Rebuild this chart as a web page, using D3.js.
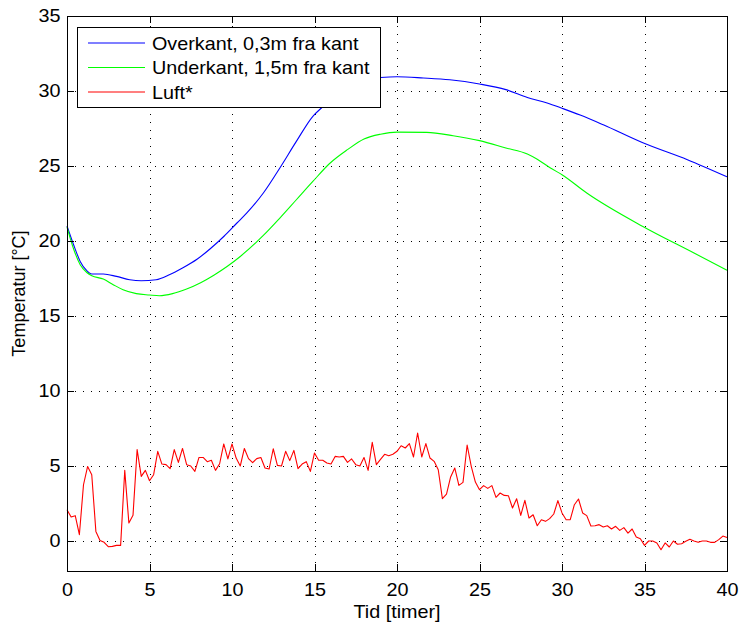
<!DOCTYPE html>
<html>
<head>
<meta charset="utf-8">
<script src="https://cdn.jsdelivr.net/npm/d3@7/dist/d3.min.js"></script>
<style>
  html, body { margin: 0; padding: 0; background: #fff; }
  svg { display: block; font-family: "Liberation Sans", Arial, Helvetica, sans-serif; }
</style>
</head>
<body>
<svg id="chart" width="739" height="624"></svg>
<script>
// Surface temperature at the top edge (0.3 m from edge)
const overkantTid = [0, 0.4, 0.8, 1.2, 1.5, 2.2, 3.0, 3.8, 4.5, 5.4, 6.2, 7.0, 7.9, 8.7, 9.5, 10.3, 10.9, 11.9, 12.9, 13.9, 14.9, 15.5, 16.3, 17.1, 17.8, 19.0, 20.0, 21.6, 23.2, 25.0, 26.6, 27.9, 29.1, 30.0, 31.1, 32.5, 34.9, 37.6, 40.0];
const overkantTemp = [21.0, 19.75, 18.64, 18.02, 17.8, 17.8, 17.64, 17.42, 17.35, 17.42, 17.75, 18.2, 18.8, 19.5, 20.3, 21.2, 21.87, 23.2, 24.87, 26.64, 28.31, 28.95, 29.8, 30.4, 30.75, 30.9, 30.95, 30.87, 30.75, 30.47, 30.09, 29.57, 29.2, 28.85, 28.4, 27.75, 26.55, 25.42, 24.28];

// Surface temperature at the bottom edge (1.5 m from edge)
const underkantTid = [0, 0.4, 0.8, 1.2, 1.5, 2.2, 2.8, 3.4, 4.2, 5.0, 5.6, 6.4, 7.25, 8.1, 8.9, 9.7, 10.5, 11.9, 12.9, 13.9, 14.9, 15.9, 17.0, 18.0, 19.0, 20.0, 21.8, 23.4, 25.0, 26.6, 27.9, 28.5, 29.3, 30.0, 31.5, 34.9, 38.0, 40.0];
const underkantTemp = [20.93, 19.47, 18.42, 17.9, 17.69, 17.46, 17.09, 16.75, 16.49, 16.4, 16.35, 16.49, 16.8, 17.22, 17.72, 18.3, 18.97, 20.37, 21.53, 22.75, 23.97, 25.15, 26.09, 26.8, 27.12, 27.26, 27.24, 27.02, 26.69, 26.2, 25.8, 25.45, 24.87, 24.42, 23.2, 20.97, 19.2, 18.05];

// Air temperature, logged every quarter hour
const luftTid = d3.range(0, 40.001, 0.25);
const luftTemp = [
  2.09, 1.6, 1.69, 0.42, 3.75, 4.97, 4.42, 0.64, 0.04, -0.09, -0.38, -0.36, -0.29, -0.29, 4.71, 1.2,
  1.71, 6.09, 4.31, 4.71, 4.02, 4.42, 5.98, 5.13, 5.09, 4.82, 6.09, 5.24, 6.17, 5.09, 5.0, 4.64,
  5.57, 5.57, 5.29, 5.38, 4.71, 5.15, 6.47, 5.47, 6.47, 5.53, 5.0, 6.17, 5.49, 5.22, 5.49, 5.57,
  4.87, 4.8, 6.15, 5.04, 5.0, 5.98, 5.36, 6.04, 4.82, 5.13, 5.29, 4.64, 5.87, 5.38, 5.38, 5.2,
  5.13, 5.64, 5.6, 5.64, 5.24, 5.47, 5.09, 5.0, 5.57, 4.71, 6.58, 5.09, 5.44, 5.78, 5.69, 5.78,
  5.98, 6.35, 6.2, 6.49, 5.6, 7.2, 5.6, 6.49, 5.53, 5.31, 4.75, 2.82, 3.13, 4.27, 4.87, 3.71,
  3.91, 6.4, 4.98, 3.93, 3.42, 3.69, 3.51, 3.69, 2.91, 3.2, 3.04, 3.02, 2.2, 2.82, 1.71, 2.71,
  1.53, 1.75, 1.02, 1.42, 1.31, 1.49, 1.8, 2.69, 1.87, 1.42, 1.42, 2.42, 2.8, 1.87, 1.69, 1.0,
  1.02, 1.09, 0.93, 1.02, 0.8, 0.98, 0.71, 0.89, 0.53, 0.8, 0.27, 0.15, -0.29, 0.0, 0.0, -0.13,
  -0.58, -0.13, -0.4, 0.0, -0.22, -0.18, -0.02, 0.11, 0.0, -0.09, 0.0, 0.0, -0.09, -0.09, 0.09, 0.33,
  0.24
];

const xTicks = [0, 5, 10, 15, 20, 25, 30, 35, 40];
const yTicks = [0, 5, 10, 15, 20, 25, 30, 35];
const seriesNames = ["Overkant, 0,3m fra kant", "Underkant, 1,5m fra kant", "Luft*"];
const seriesColors = ["#0000ff", "#00ff00", "#ff0000"];

const svg = d3.select("#chart");
const pLeft = 67, pRight = 727, pTop = 16, pBottom = 571;
const stretch = 1.1; // horizontal glyph stretch of the labels

const x = d3.scaleLinear().domain([0, 40]).range([pLeft, pRight]);
const y = d3.scaleLinear().domain([-2, 35]).range([pBottom, pTop]);

// dotted grid
const grid = svg.append("g").attr("stroke", "#000").attr("stroke-width", 1)
  .attr("stroke-dasharray", "1,7").attr("shape-rendering", "crispEdges");
grid.selectAll("line.vx").data(xTicks.slice(1, -1)).join("line")
  .attr("x1", d => Math.round(x(d)) + 0.5).attr("x2", d => Math.round(x(d)) + 0.5)
  .attr("y1", pBottom).attr("y2", pTop);
grid.selectAll("line.hy").data(yTicks).join("line")
  .attr("y1", d => Math.round(y(d)) + 0.5).attr("y2", d => Math.round(y(d)) + 0.5)
  .attr("x1", pLeft).attr("x2", pRight);

// series
const series = [
  { t: overkantTid, v: overkantTemp, curve: d3.curveMonotoneX },
  { t: underkantTid, v: underkantTemp, curve: d3.curveMonotoneX },
  { t: luftTid, v: luftTemp, curve: d3.curveLinear }
];
const plot = svg.append("g");
series.forEach((s, i) => {
  const pts = s.t.map((t, k) => [t, s.v[k]]);
  plot.append("path")
    .attr("fill", "none")
    .attr("stroke", seriesColors[i])
    .attr("stroke-width", 1.1)
    .attr("stroke-linejoin", "round")
    .attr("d", d3.line().x(d => x(d[0])).y(d => y(d[1])).curve(s.curve)(pts));
});

// axes with inward ticks on all four sides
const fontSize = 18;
const xAxisB = d3.axisBottom(x).tickValues(xTicks).tickSizeInner(-7).tickSizeOuter(0).tickPadding(12).tickFormat(d3.format("d"));
const xAxisT = d3.axisTop(x).tickValues(xTicks).tickSizeInner(-7).tickSizeOuter(0).tickFormat("");
const yAxisL = d3.axisLeft(y).tickValues(yTicks).tickSizeInner(-7).tickSizeOuter(0).tickPadding(6).tickFormat(d3.format("d"));
const yAxisR = d3.axisRight(y).tickValues(yTicks).tickSizeInner(-7).tickSizeOuter(0).tickFormat("");

function style(g) {
  g.select(".domain").remove();
  g.selectAll(".tick line").attr("stroke", "#000").attr("shape-rendering", "crispEdges");
  g.selectAll(".tick text").attr("fill", "#000").attr("font-size", fontSize)
    .attr("font-family", "'Liberation Sans', Arial, sans-serif")
    .attr("transform", `scale(${stretch},1)`);
}
svg.append("g").attr("transform", `translate(0,${pBottom})`).call(xAxisB).call(style);
svg.append("g").attr("transform", `translate(0,${pTop})`).call(xAxisT).call(style);
svg.append("g").attr("transform", `translate(${pLeft},0)`).call(yAxisL).call(style);
svg.append("g").attr("transform", `translate(${pRight},0)`).call(yAxisR).call(style);

// frame
svg.append("rect").attr("x", pLeft + 0.5).attr("y", pTop + 0.5)
  .attr("width", pRight - pLeft).attr("height", pBottom - pTop)
  .attr("fill", "none").attr("stroke", "#000").attr("stroke-width", 1)
  .attr("shape-rendering", "crispEdges");

// axis titles
svg.append("g").attr("transform", `translate(${(pLeft + pRight) / 2},618) scale(${stretch},1)`)
  .append("text").attr("text-anchor", "middle").attr("font-size", 18).text("Tid [timer]");
svg.append("text").attr("transform", `translate(25,${(pTop + pBottom) / 2}) rotate(-90)`)
  .attr("text-anchor", "middle").attr("font-size", 18).text("Temperatur [°C]");

// legend
const lg = svg.append("g");
lg.append("rect").attr("x", 77.5).attr("y", 27.5).attr("width", 303).attr("height", 80)
  .attr("fill", "#fff").attr("stroke", "#000").attr("stroke-width", 1)
  .attr("shape-rendering", "crispEdges");
seriesNames.forEach((name, i) => {
  const cy = 43 + i * 24.5;
  lg.append("line").attr("x1", 88).attr("x2", 145).attr("y1", cy).attr("y2", cy)
    .attr("stroke", seriesColors[i]).attr("stroke-width", 1.1);
  lg.append("g").attr("transform", `translate(152,${cy}) scale(1.04,1)`)
    .append("text").attr("dy", "0.36em")
    .attr("font-size", 19).attr("fill", "#000").text(name);
});
</script>
</body>
</html>
